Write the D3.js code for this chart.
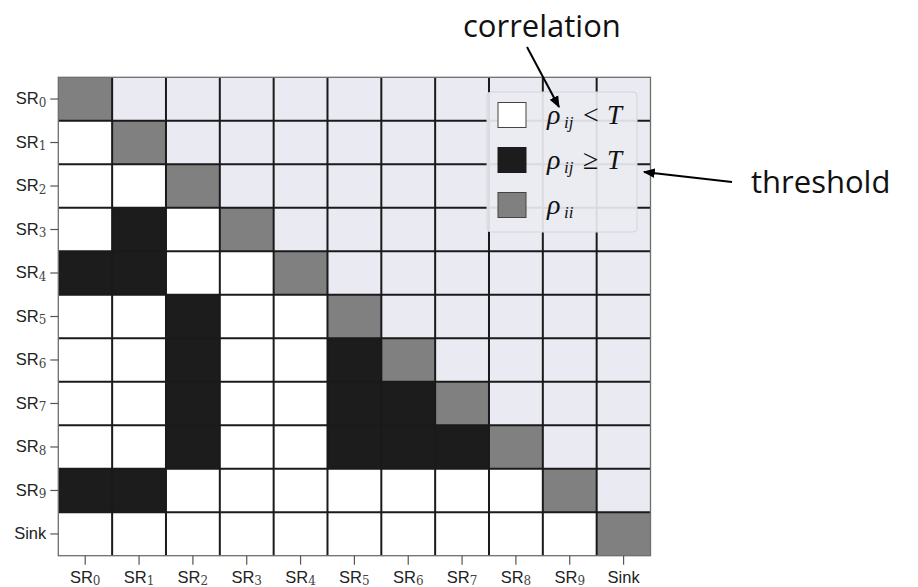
<!DOCTYPE html>
<html>
<head>
<meta charset="utf-8">
<script src="https://cdn.jsdelivr.net/npm/d3@7/dist/d3.min.js"></script>
<style>
  html, body { margin: 0; padding: 0; background: #fff; }
  svg { display: block; }
</style>
</head>
<body>
<svg id="chart" width="918" height="587"></svg>
<script>
// Node names (rows and columns of the correlation matrix)
const nodes = ["SR0", "SR1", "SR2", "SR3", "SR4", "SR5", "SR6", "SR7", "SR8", "SR9", "Sink"];

// Lower triangle: 1 where rho_ij >= T, 0 where rho_ij < T
const aboveThreshold = [
  [],
  [0],
  [0, 0],
  [0, 1, 0],
  [1, 1, 0, 0],
  [0, 0, 1, 0, 0],
  [0, 0, 1, 0, 0, 1],
  [0, 0, 1, 0, 0, 1, 1],
  [0, 0, 1, 0, 0, 1, 1, 1],
  [1, 1, 0, 0, 0, 0, 0, 0, 0],
  [0, 0, 0, 0, 0, 0, 0, 0, 0, 0]
];

// Legend entries
const legendKeys = ["weak", "strong", "diag"];

const colors = {
  masked: "#EAEAF2",
  weak: "#FFFFFF",
  strong: "#1C1C1C",
  diag: "#808080"
};

const svg = d3.select("#chart");
const plot = { left: 58.3, right: 650.5, top: 77.3, bottom: 555.7 };

const x = d3.scaleBand().domain(nodes).range([plot.left, plot.right]);
const y = d3.scaleBand().domain(nodes).range([plot.top, plot.bottom]);

// Cell states
const cells = [];
nodes.forEach((rn, i) => {
  nodes.forEach((cn, j) => {
    let state;
    if (j > i) state = "masked";
    else if (j === i) state = "diag";
    else state = aboveThreshold[i][j] ? "strong" : "weak";
    cells.push({ row: rn, col: cn, state });
  });
});

svg.append("g")
  .selectAll("rect")
  .data(cells)
  .join("rect")
  .attr("x", d => x(d.col))
  .attr("y", d => y(d.row))
  .attr("width", x.bandwidth())
  .attr("height", y.bandwidth())
  .attr("fill", d => colors[d.state]);

// Inner grid lines between cells
const grid = svg.append("g").attr("stroke", "#1a1a1a").attr("stroke-width", 2);
nodes.slice(1).forEach(n => {
  grid.append("line")
    .attr("x1", x(n)).attr("x2", x(n))
    .attr("y1", plot.top).attr("y2", plot.bottom);
  grid.append("line")
    .attr("x1", plot.left).attr("x2", plot.right)
    .attr("y1", y(n)).attr("y2", y(n));
});

// Outer frame
svg.append("rect")
  .attr("x", plot.left).attr("y", plot.top)
  .attr("width", plot.right - plot.left).attr("height", plot.bottom - plot.top)
  .attr("fill", "none").attr("stroke", "#6e6e6e").attr("stroke-width", 1.3);

// Tick label with a serif subscript digit
function labelWithSub(sel) {
  sel.each(function(d) {
    const t = d3.select(this);
    t.text(null);
    if (d.startsWith("SR")) {
      t.append("tspan").text("SR");
      t.append("tspan")
        .attr("font-family", "'DejaVu Serif', serif")
        .attr("font-size", 12)
        .attr("fill", "#444")
        .attr("dy", 2.5)
        .text(d.slice(2));
    } else {
      t.append("tspan").text(d);
    }
  });
}

const axisStyle = g => {
  g.select(".domain").remove();
  g.selectAll(".tick line").attr("stroke", "#555").attr("stroke-width", 1.2);
  g.selectAll(".tick text")
    .attr("fill", "#222")
    .attr("font-family", "'Liberation Sans', Arial, sans-serif")
    .attr("font-size", 16.5);
};

svg.append("g")
  .attr("transform", `translate(${plot.left},0)`)
  .call(d3.axisLeft(y).tickSize(8).tickPadding(4))
  .call(axisStyle)
  .call(g => g.selectAll(".tick text").attr("dy", "0.33em").call(labelWithSub));

svg.append("g")
  .attr("transform", `translate(0,${plot.bottom})`)
  .call(d3.axisBottom(x).tickSize(9).tickPadding(5))
  .call(axisStyle)
  .call(g => g.selectAll(".tick text").attr("dy", 13).call(labelWithSub));

// Legend
const legend = svg.append("g");
legend.append("rect")
  .attr("x", 487).attr("y", 92).attr("width", 150).attr("height", 140)
  .attr("rx", 4)
  .attr("fill", "#EAEAF2").attr("fill-opacity", 0.92)
  .attr("stroke", "#d4d4de").attr("stroke-width", 1);

const legendY = d3.scalePoint().domain(legendKeys).range([115, 205]);

legend.selectAll("rect.patch")
  .data(legendKeys)
  .join("rect")
  .attr("class", "patch")
  .attr("x", 498).attr("y", d => legendY(d) - 12.5)
  .attr("width", 28).attr("height", 25)
  .attr("fill", d => colors[d])
  .attr("stroke", d => d === "strong" ? colors.strong : "#444")
  .attr("stroke-width", 1);

const mathFont = "'Liberation Serif', 'DejaVu Serif', serif";
function mathLabel(key, rel, sub) {
  const base = legendY(key) + 8.5;
  const g = legend.append("g").attr("font-family", mathFont).attr("fill", "#111");
  g.append("text").attr("x", 547).attr("y", base)
    .attr("font-size", 28).attr("font-style", "italic")
    .text("ρ");
  g.append("text").attr("x", 564).attr("y", base + 4.5)
    .attr("font-size", 17).attr("font-style", "italic").text(sub);
  if (rel) {
    g.append("text").attr("x", 583).attr("y", base)
      .attr("font-size", 28)
      .text(rel);
    g.append("text").attr("x", 607).attr("y", base)
      .attr("font-size", 27).attr("font-style", "italic")
      .text("T");
  }
}
mathLabel("weak", "<", "ij");
mathLabel("strong", "≥", "ij");
mathLabel("diag", null, "ii");

// Annotations
svg.append("defs").append("marker")
  .attr("id", "arrowhead")
  .attr("viewBox", "0 0 10 10")
  .attr("refX", 9).attr("refY", 5)
  .attr("markerWidth", 6).attr("markerHeight", 6)
  .attr("markerUnits", "strokeWidth")
  .attr("orient", "auto")
  .append("path").attr("d", "M0,1 L10,5 L0,9 Z").attr("fill", "#000");

const annoFont = "'Open Sans', 'Noto Sans', sans-serif";
svg.append("text")
  .attr("x", 463).attr("y", 37)
  .attr("font-family", annoFont).attr("font-size", 31).attr("fill", "#111")
  .text("correlation");
svg.append("line")
  .attr("x1", 527).attr("y1", 47).attr("x2", 559).attr("y2", 107)
  .attr("stroke", "#000").attr("stroke-width", 2)
  .attr("marker-end", "url(#arrowhead)");

svg.append("text")
  .attr("x", 751).attr("y", 193)
  .attr("font-family", annoFont).attr("font-size", 31).attr("fill", "#111")
  .text("threshold");
svg.append("line")
  .attr("x1", 732).attr("y1", 182).attr("x2", 644).attr("y2", 172)
  .attr("stroke", "#000").attr("stroke-width", 2)
  .attr("marker-end", "url(#arrowhead)");
</script>
</body>
</html>
